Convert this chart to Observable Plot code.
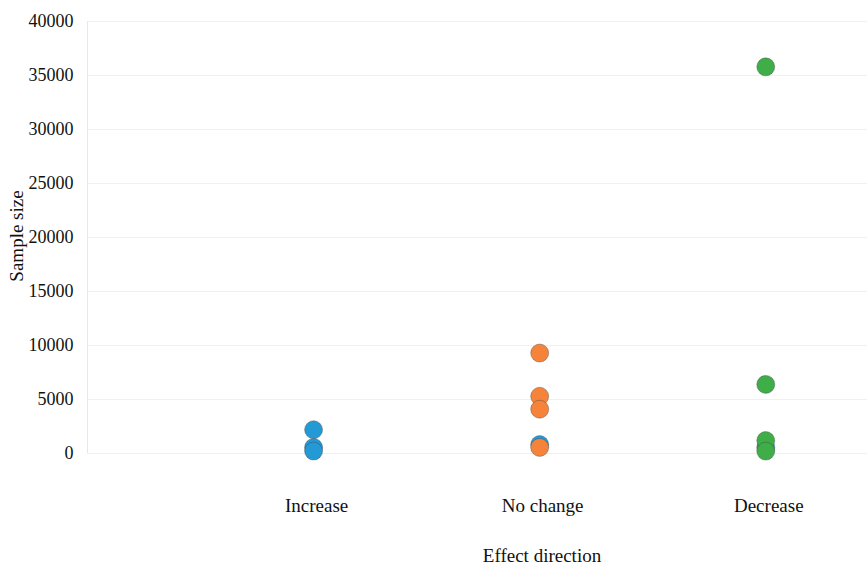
<!DOCTYPE html>
<html><head><meta charset="utf-8">
<script src="https://cdn.jsdelivr.net/npm/d3@7"></script>
<script src="https://cdn.jsdelivr.net/npm/@observablehq/plot@0.6"></script>
<style>
body{margin:0;background:#fff;}
#chart svg{font-family:"Liberation Serif","Times New Roman",serif;}
</style></head>
<body><div id="chart"></div>
<script>
const categories = ["Increase", "No change", "Decrease"];
const categoryX = [1, 2, 3];
const yTicks = [0, 5000, 10000, 15000, 20000, 25000, 30000, 35000, 40000];

// series: x position (category index), sample size
const increaseX = [1, 1, 1, 2, 3];
const increaseY = [2200, 560, 230, 830, 560];
const noChangeX = [2, 2, 2, 2];
const noChangeY = [9300, 5300, 4100, 560];
const decreaseX = [3, 3, 3, 3];
const decreaseY = [35800, 6400, 1200, 220];

const colors = {Increase: "#2399d6", "No change": "#f5843a", Decrease: "#3fae49"};

const data = [
  ...increaseX.map((x, i) => ({x, y: increaseY[i], s: "Increase"})),
  ...noChangeX.map((x, i) => ({x, y: noChangeY[i], s: "No change"})),
  ...decreaseX.map((x, i) => ({x, y: decreaseY[i], s: "Decrease"}))
];

const chart = Plot.plot({
  width: 867,
  height: 565,
  marginLeft: 87,
  marginRight: 0,
  marginTop: 21,
  marginBottom: 112,
  style: {fontFamily: "'Liberation Serif','Times New Roman',serif", fontSize: "18px", color: "#111", background: "#fff"},
  x: {domain: [0, 3.45], axis: null},
  y: {domain: [0, 40000], axis: null},
  marks: [
    Plot.gridY(yTicks, {stroke: "#f0f0f0", strokeOpacity: 1}),
    Plot.ruleX([0], {stroke: "#e8e8e8"}),
    Plot.axisY({ticks: yTicks, tickSize: 0, tickPadding: 14, tickFormat: d => String(d), label: null, fontSize: 18}),
    Plot.axisX({ticks: categoryX, tickSize: 0, tickPadding: 45, dx: 3, tickFormat: d => categories[d - 1], label: null, fontSize: 19}),
    Plot.dot(data, {x: "x", y: "y", fill: d => colors[d.s], r: 9, stroke: "#3a3a3a", strokeOpacity: 0.35, strokeWidth: 1})
  ]
});

const svg = d3.select(chart);
svg.append("text")
  .attr("transform", "translate(23,236) rotate(-90)")
  .attr("text-anchor", "middle")
  .attr("font-size", 19)
  .attr("fill", "#111")
  .text("Sample size");
svg.append("text")
  .attr("x", 542)
  .attr("y", 562)
  .attr("text-anchor", "middle")
  .attr("font-size", 19)
  .attr("fill", "#111")
  .text("Effect direction");

document.getElementById("chart").appendChild(chart);
</script></body></html>
